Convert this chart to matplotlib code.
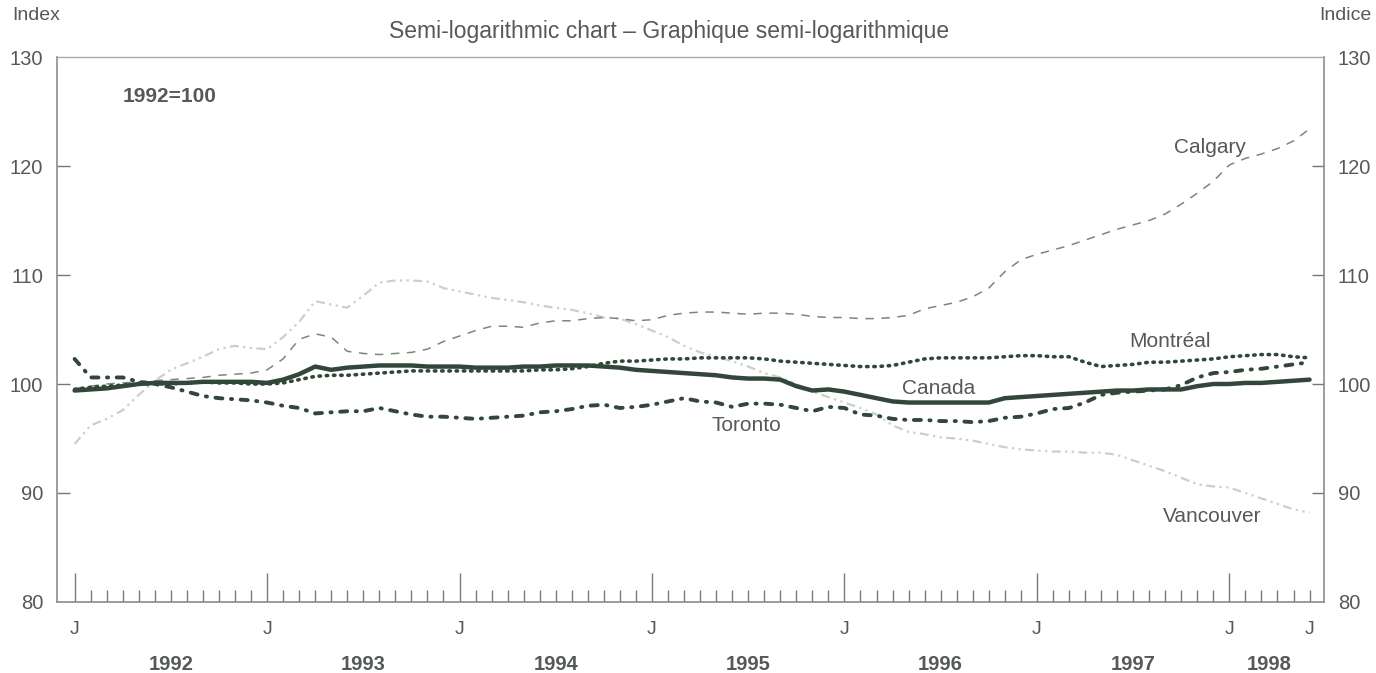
import numpy as np
import matplotlib
matplotlib.use("Agg")
import matplotlib.pyplot as plt
import matplotlib.transforms as mtransforms

plt.rcParams['font.family'] = ['Liberation Sans', 'DejaVu Sans']

# monthly index, Jan 1992 .. Jun 1998 (1992=100)
months = np.arange(78)

canada = [99.4, 99.5, 99.6, 99.8, 100.0, 100.1, 100.1, 100.1, 100.2, 100.2, 100.2, 100.2,
          100.1, 100.4, 100.9, 101.6, 101.3, 101.5, 101.6, 101.7, 101.7, 101.7, 101.6, 101.6,
          101.6, 101.5, 101.5, 101.5, 101.6, 101.6, 101.7, 101.7, 101.7, 101.6, 101.5, 101.3,
          101.2, 101.1, 101.0, 100.9, 100.8, 100.6, 100.5, 100.5, 100.4, 99.8, 99.4, 99.5,
          99.3, 99.0, 98.7, 98.4, 98.3, 98.3, 98.3, 98.3, 98.3, 98.3, 98.7, 98.8,
          98.9, 99.0, 99.1, 99.2, 99.3, 99.4, 99.4, 99.5, 99.5, 99.5, 99.8, 100.0,
          100.0, 100.1, 100.1, 100.2, 100.3, 100.4]

montreal = [99.5, 99.7, 99.8, 99.9, 100.0, 100.0, 100.0, 100.1, 100.2, 100.1, 100.1, 100.0,
            100.0, 100.1, 100.4, 100.7, 100.8, 100.8, 100.9, 101.0, 101.1, 101.2, 101.2, 101.2,
            101.2, 101.2, 101.2, 101.2, 101.2, 101.3, 101.3, 101.4, 101.6, 101.9, 102.1, 102.1,
            102.2, 102.3, 102.3, 102.4, 102.4, 102.4, 102.4, 102.3, 102.1, 102.0, 101.9, 101.8,
            101.7, 101.6, 101.6, 101.7, 102.0, 102.3, 102.4, 102.4, 102.4, 102.4, 102.5, 102.6,
            102.6, 102.5, 102.5, 102.0, 101.6, 101.7, 101.8, 102.0, 102.0, 102.1, 102.2, 102.3,
            102.5, 102.6, 102.7, 102.7, 102.5, 102.4]

toronto = [102.3, 100.6, 100.6, 100.6, 100.2, 100.0, 99.7, 99.3, 98.9, 98.7, 98.6, 98.5,
           98.3, 98.0, 97.8, 97.3, 97.4, 97.5, 97.5, 97.8, 97.5, 97.2, 97.0, 97.0,
           96.9, 96.8, 96.9, 97.0, 97.1, 97.4, 97.5, 97.7, 98.0, 98.1, 97.8, 97.9,
           98.1, 98.4, 98.7, 98.4, 98.3, 97.9, 98.2, 98.2, 98.1, 97.8, 97.5, 97.9,
           97.8, 97.2, 97.1, 96.8, 96.7, 96.7, 96.6, 96.6, 96.5, 96.6, 96.9, 97.0,
           97.3, 97.7, 97.8, 98.3, 99.0, 99.2, 99.3, 99.4, 99.5, 99.9, 100.6, 101.0,
           101.1, 101.3, 101.4, 101.6, 101.8, 102.0]

calgary = [99.6, 99.8, 100.0, 100.1, 100.2, 100.3, 100.4, 100.5, 100.6, 100.8, 100.9, 101.0,
           101.3, 102.3, 104.1, 104.6, 104.3, 103.0, 102.8, 102.7, 102.8, 102.9, 103.2, 103.9,
           104.4, 104.9, 105.3, 105.3, 105.2, 105.6, 105.8, 105.8, 106.0, 106.1, 106.0, 105.8,
           105.9, 106.3, 106.5, 106.6, 106.6, 106.5, 106.4, 106.5, 106.5, 106.4, 106.2, 106.1,
           106.1, 106.0, 106.0, 106.1, 106.3, 106.9, 107.2, 107.5, 108.0, 108.8, 110.3, 111.4,
           111.9, 112.3, 112.7, 113.2, 113.7, 114.2, 114.6, 115.0, 115.6, 116.5, 117.5, 118.6,
           120.1, 120.7, 121.1, 121.6, 122.3, 123.4]

vancouver = [94.5, 96.2, 96.8, 97.6, 99.0, 100.3, 101.3, 101.9, 102.5, 103.2, 103.5, 103.3,
             103.2, 104.3, 105.7, 107.6, 107.3, 107.0, 108.1, 109.3, 109.5, 109.5, 109.4, 108.8,
             108.5, 108.2, 107.9, 107.7, 107.5, 107.2, 107.0, 106.8, 106.5, 106.1, 106.0, 105.5,
             104.9, 104.3, 103.5, 102.9, 102.5, 102.1, 101.6, 101.0, 100.6, 100.0, 99.3, 98.8,
             98.3, 97.8, 97.2, 96.2, 95.6, 95.4, 95.1, 95.0, 94.8, 94.5, 94.2, 94.0,
             93.9, 93.8, 93.8, 93.7, 93.7, 93.5, 93.0, 92.5, 92.0, 91.4, 90.8, 90.6,
             90.5, 90.0, 89.5, 89.0, 88.5, 88.2]

years = ['1992', '1993', '1994', '1995', '1996', '1997', '1998']
jan_ticks = [0, 12, 24, 36, 48, 60, 72]
yticks = [80, 90, 100, 110, 120, 130]

dark = '#32473a'
txt = '#555a56'

fig = plt.figure(figsize=(13.76, 6.73), dpi=100)
ax = fig.add_axes([0.0414, 0.1055, 0.9208, 0.8098])

ax.plot(months, vancouver, color='#cbcfcb', lw=1.6, linestyle=(0, (4, 2, 1, 2, 1, 2)))
ax.plot(months, calgary, color='#7d857f', lw=1.1, linestyle=(0, (5.5, 5)))
ax.plot(months, toronto, color=dark, lw=2.8, linestyle=(0, (1.8, 2.2, 0.3, 2.2)),
        dash_capstyle='round')
ax.plot(months, montreal, color=dark, lw=2.6, linestyle=(0, (0.4, 1.6)),
        dash_capstyle='round')
ax.plot(months, canada, color=dark, lw=3.2, solid_capstyle='round')

ax.set_xlim(-1.1, 77.9)
ax.set_ylim(80, 130)

# x axis: long ticks at January, short ticks every month
ax.set_xticks(jan_ticks)
ax.set_xticklabels(['J'] * len(jan_ticks))
ax.set_xticks([m for m in months if m % 12 != 0], minor=True)
ax.set_xticklabels(['J' if m == 77 else '' for m in months if m % 12 != 0], minor=True)
ax.tick_params(axis='x', which='major', direction='in', length=21, width=1.0,
               color='#777777', labelsize=14, labelcolor=txt, pad=14)
ax.tick_params(axis='x', which='minor', direction='in', length=8.5, width=1.0,
               color='#777777', labelsize=14, labelcolor=txt, pad=14)

ax.set_yticks(yticks)
ax.set_yticklabels([str(v) for v in yticks])
ax.tick_params(axis='y', which='major', direction='in', length=9, width=1.0,
               color='#777777', labelsize=14.5, labelcolor=txt, pad=10,
               left=True, right=True, labelleft=True, labelright=True)
for t in ax.yaxis.get_major_ticks():
    if t.get_loc() == 130 or t.get_loc() == 80:
        t.tick1line.set_visible(False)
        t.tick2line.set_visible(False)

for s in ['left', 'right', 'bottom']:
    ax.spines[s].set_color('#8a8f8b')
    ax.spines[s].set_linewidth(1.2)
ax.spines['top'].set_color('#a8aaa8')
ax.spines['top'].set_linewidth(1.0)

# year labels under the J labels
trans = mtransforms.blended_transform_factory(ax.transData, ax.transAxes)
for i, y in enumerate(years):
    start = jan_ticks[i]
    end = start + 12 if i < len(years) - 1 else 77
    ax.text((start + end) / 2, -0.115, y, transform=trans, ha='center', va='center',
            fontsize=14.5, fontweight='bold', color=txt)

fig.text(0.009, 0.977, 'Index', ha='left', va='center', fontsize=14, color=txt)
fig.text(0.997, 0.977, 'Indice', ha='right', va='center', fontsize=14, color=txt)
fig.text(0.486, 0.953, 'Semi-logarithmic chart \u2013 Graphique semi-logarithmique',
         ha='center', va='center', fontsize=16.5, color=txt)

ax.text(3.0, 126.4, '1992=100', ha='left', va='center', fontsize=15,
        fontweight='bold', color=txt)

ax.text(70.8, 121.7, 'Calgary', ha='center', va='center', fontsize=15, color=txt)
ax.text(68.3, 103.9, 'Montr\u00e9al', ha='center', va='center', fontsize=15, color=txt)
ax.text(53.9, 99.6, 'Canada', ha='center', va='center', fontsize=15, color=txt)
ax.text(41.9, 96.2, 'Toronto', ha='center', va='center', fontsize=15, color=txt)
ax.text(70.9, 87.8, 'Vancouver', ha='center', va='center', fontsize=15, color=txt)

fig.savefig('out.png', dpi=100)
